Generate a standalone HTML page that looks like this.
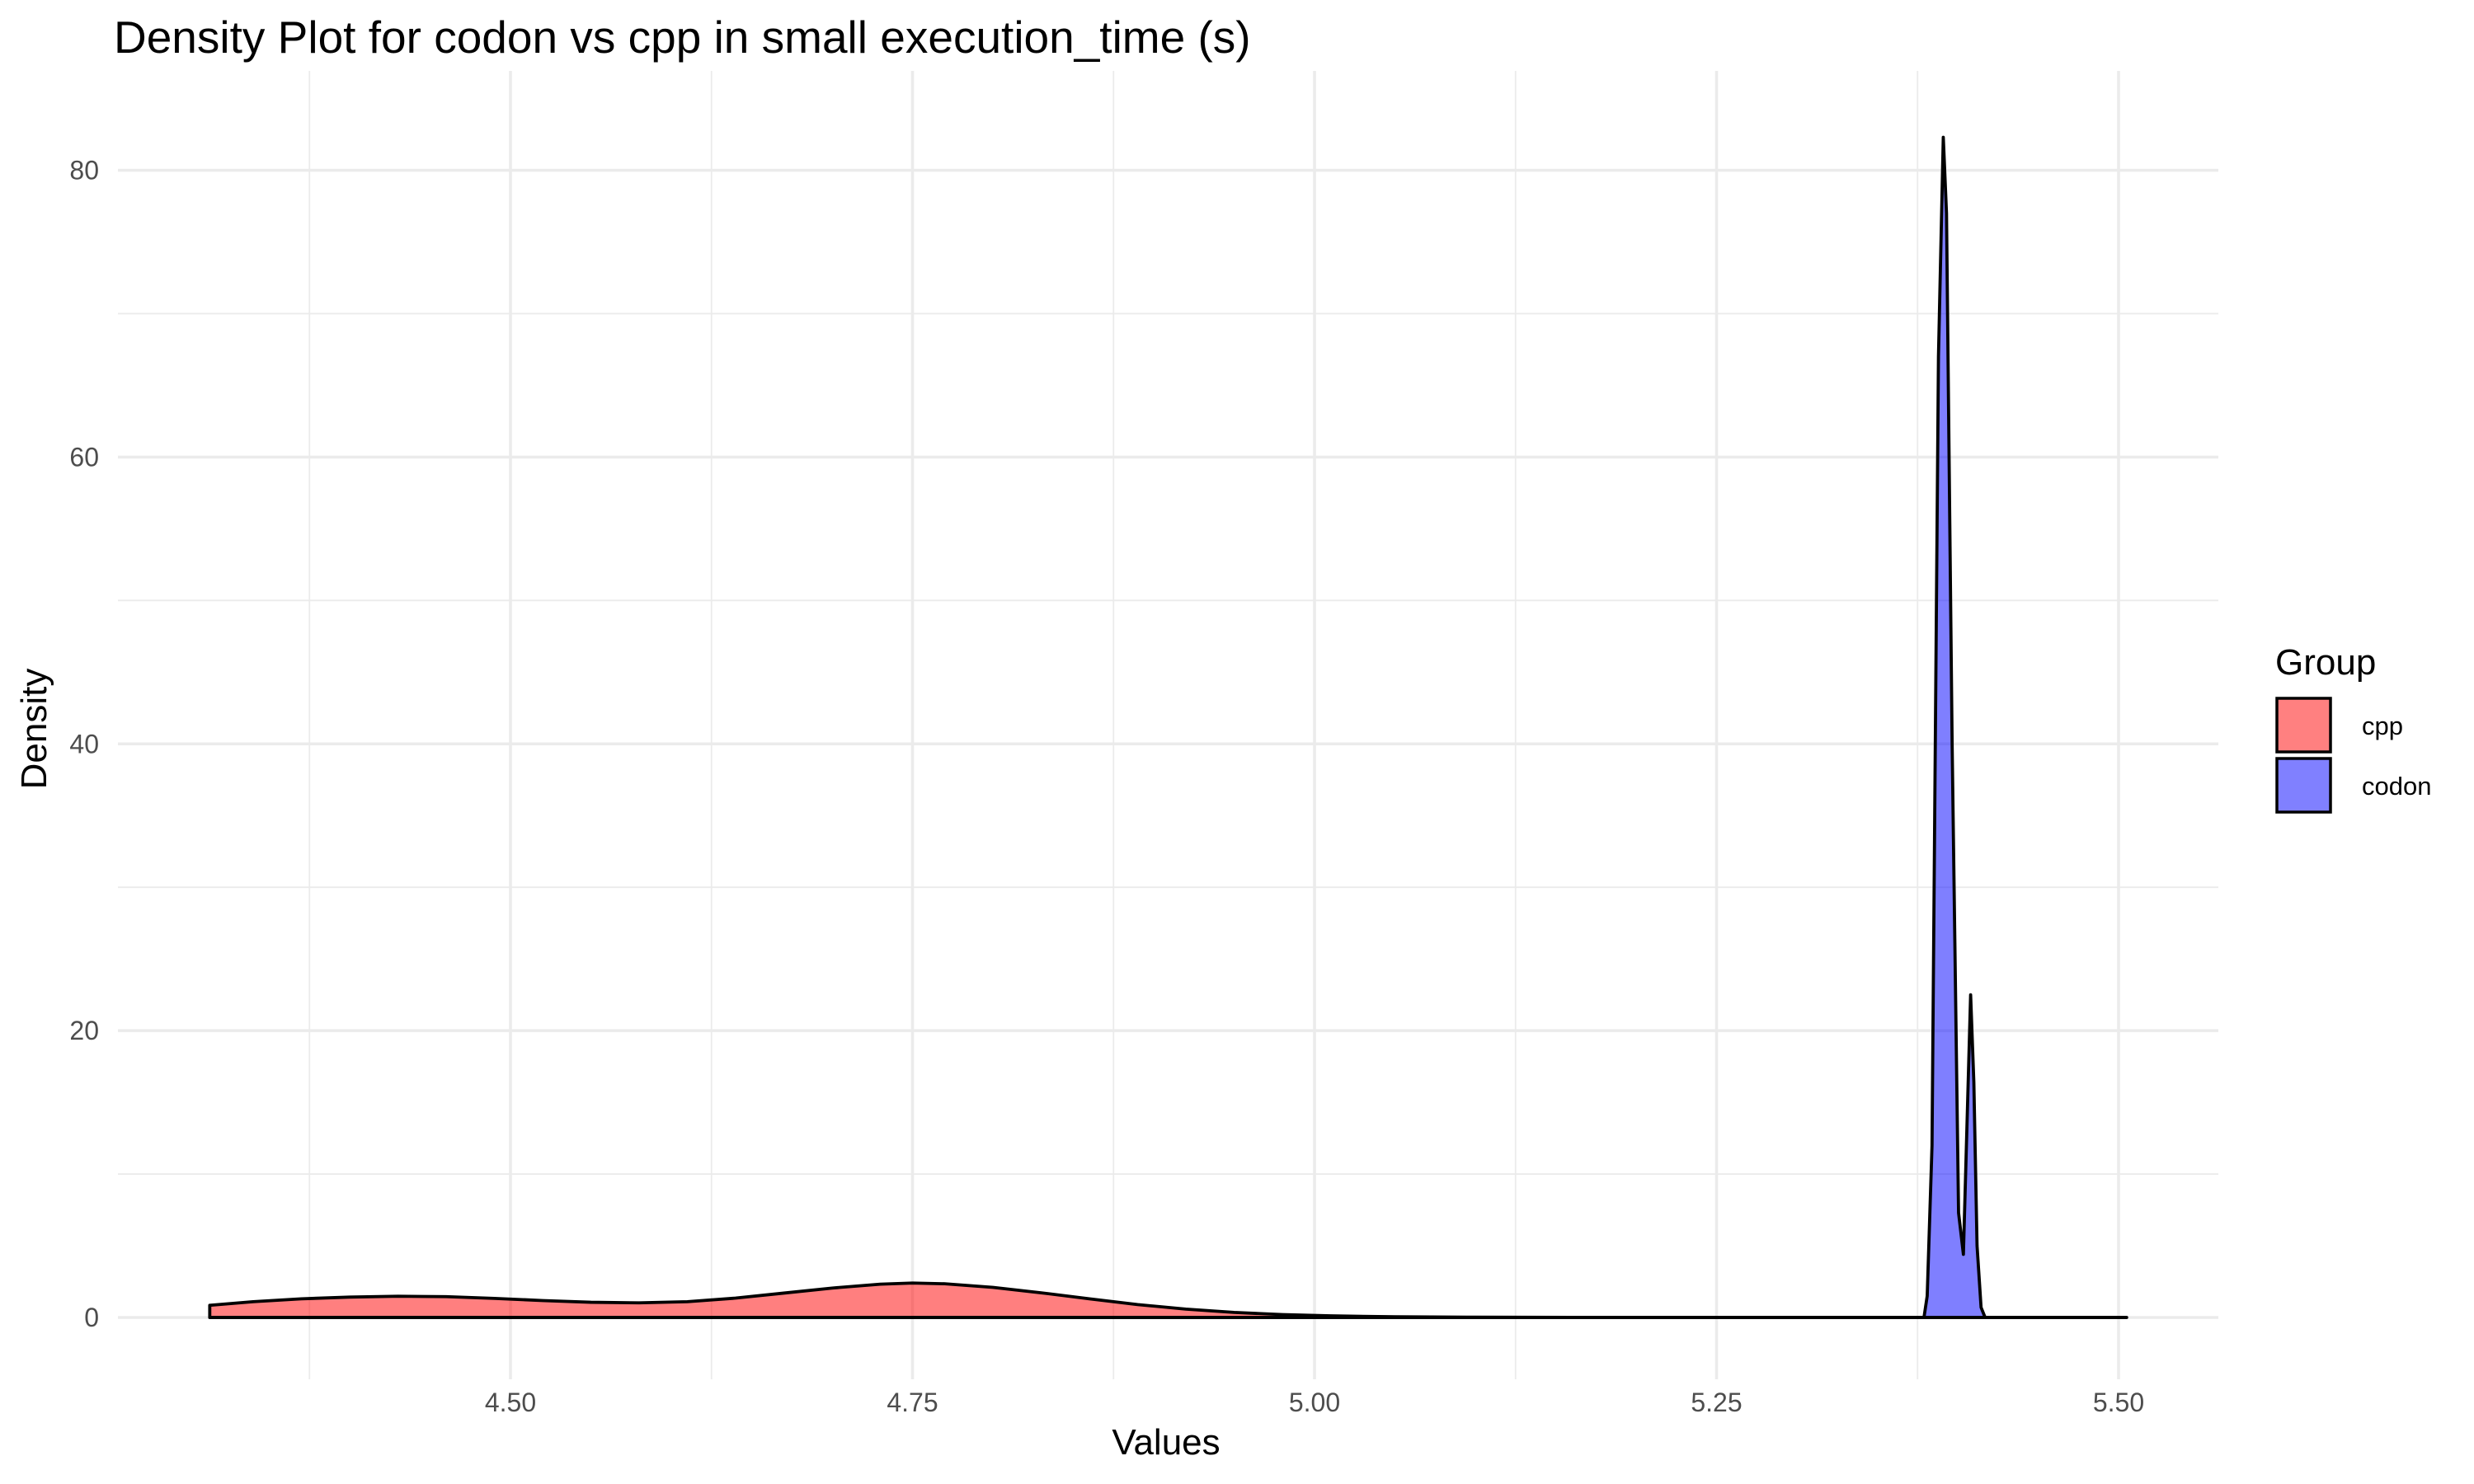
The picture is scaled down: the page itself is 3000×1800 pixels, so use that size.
<!DOCTYPE html>
<html><head><meta charset="utf-8"><style>
body{margin:0;background:#fff;}
svg{display:block;font-family:"Liberation Sans",sans-serif;}
</style></head><body>
<svg id="chart" width="3000" height="1800" viewBox="0 0 3000 1800">
<text x="138" y="64" font-size="55" fill="#000">Density Plot for codon vs cpp in small execution_time (s)</text>
<g id="grid"></g>
<g id="marks"></g>
<g id="axes"></g>
<text x="1414" y="1764" font-size="44" text-anchor="middle" fill="#000">Values</text>
<text transform="translate(56,884) rotate(-90)" font-size="44" text-anchor="middle" fill="#000">Density</text>
<g>
<text x="2759" y="818" font-size="44" fill="#000">Group</text>
<rect x="2761" y="847" width="65" height="65" fill="#ff8080" stroke="#000" stroke-width="3.5"/>
<text x="2864" y="891" font-size="31" fill="#000">cpp</text>
<rect x="2761" y="920" width="65" height="65" fill="#8080ff" stroke="#000" stroke-width="3.5"/>
<text x="2864" y="964" font-size="31" fill="#000">codon</text>
</g>
</svg>
<script>
const xTicks=[4.50,4.75,5.00,5.25,5.50];
const xTickLabels=["4.50","4.75","5.00","5.25","5.50"];
const yTicks=[0,20,40,60,80];
const yTickLabels=["0","20","40","60","80"];
const cppX=[4.313,4.34,4.37,4.40,4.43,4.46,4.49,4.52,4.55,4.58,4.61,4.64,4.67,4.70,4.73,4.75,4.77,4.80,4.83,4.86,4.89,4.92,4.95,4.98,5.01,5.05,5.10,5.20,5.30,5.40,5.505];
const cppY=[0.85,1.1,1.3,1.42,1.48,1.45,1.33,1.18,1.06,1.02,1.1,1.35,1.7,2.05,2.32,2.4,2.35,2.1,1.72,1.3,0.9,0.58,0.35,0.2,0.11,0.05,0.02,0,0,0,0];
const codonX=[4.313,5.37,5.379,5.381,5.384,5.388,5.391,5.393,5.3965,5.4005,5.4035,5.408,5.410,5.412,5.4145,5.417,5.505];
const codonY=[0,0,0,1.5,12,67,82.3,77,40,7.3,4.4,22.5,16.4,5,0.7,0,0];

const NS='http://www.w3.org/2000/svg';
const PL=143,PR=2690,PT=86,PB=1673;
function sx(v){return 619+(v-4.5)*1950;}
function sy(v){return 1598-v*(1598-206.5)/80;}
function mk(tag,attrs,parent){const e=document.createElementNS(NS,tag);for(const k in attrs)e.setAttribute(k,attrs[k]);parent.appendChild(e);return e;}
const grid=document.getElementById('grid'),marks=document.getElementById('marks'),axes=document.getElementById('axes');
for(let i=0;i<xTicks.length+1;i++){const v=xTicks[0]-0.125+i*0.25;
 if(sx(v)>PR)continue;
 const l=mk('line',{x1:sx(v),x2:sx(v),y1:PT,y2:PB,stroke:'#ebebeb','stroke-width':1.8},grid);
 
 }
for(let i=0;i<yTicks.length-1;i++){const v=yTicks[i]+10;
 const l=mk('line',{x1:PL,x2:PR,y1:sy(v),y2:sy(v),stroke:'#ebebeb','stroke-width':1.8},grid);
 
 }
xTicks.forEach((v,i)=>{
 const l=mk('line',{x1:sx(v),x2:sx(v),y1:PT,y2:PB,stroke:'#ebebeb','stroke-width':3.6},grid);
 
 
 const t=mk('text',{x:sx(v),y:1712,'font-size':32,fill:'#4d4d4d','text-anchor':'middle'},axes);
 t.textContent=xTickLabels[i];
 
 
});
yTicks.forEach((v,i)=>{
 const l=mk('line',{x1:PL,x2:PR,y1:sy(v),y2:sy(v),stroke:'#ebebeb','stroke-width':3.6},grid);
 
 
 const t=mk('text',{x:120,y:sy(v)+11,'font-size':32,fill:'#4d4d4d','text-anchor':'end'},axes);
 t.textContent=yTickLabels[i];
 
 
});
function area(xs,ys,fill,name){
 let d='M'+sx(xs[0])+','+sy(0);
 xs.forEach((x,i)=>{d+=' L'+sx(x)+','+sy(ys[i]);});
 d+=' L'+sx(xs[xs.length-1])+','+sy(0)+' Z';
 const p=mk('path',{d:d,fill:fill,'fill-opacity':0.5,stroke:'none'},marks);
 
 
 const o=mk('path',{d:d,fill:'none',stroke:'#000','stroke-width':3.8,'stroke-linejoin':'round'},marks);
 
 
}
area(cppX,cppY,'#ff0000','cpp-density');
area(codonX,codonY,'#0000ff','codon-density');
</script>
</body></html>
